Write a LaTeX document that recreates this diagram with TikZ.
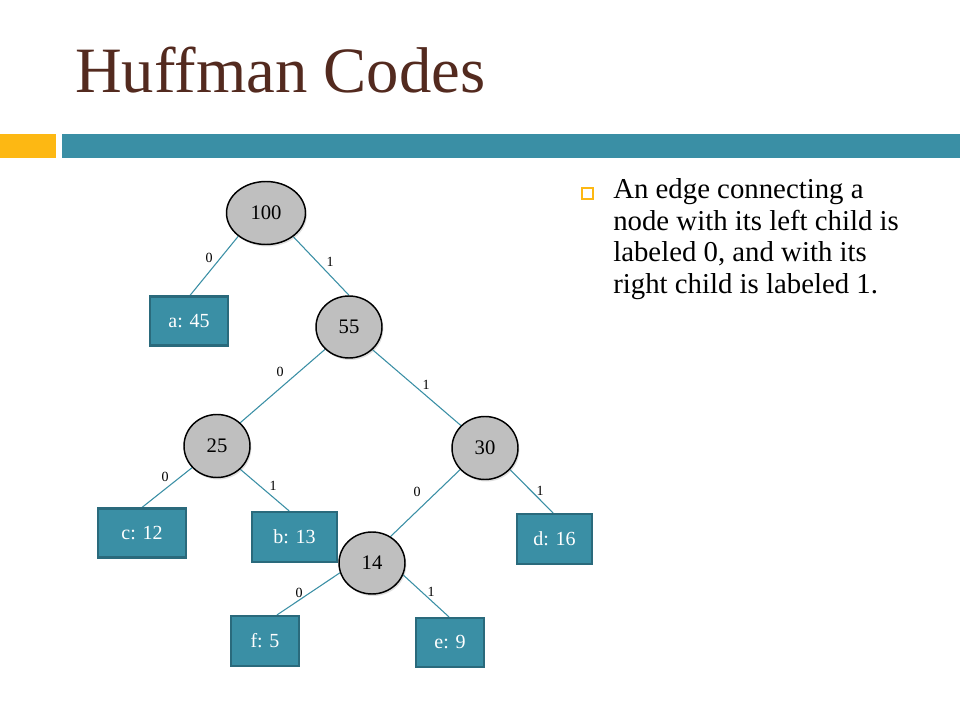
\documentclass[tikz,border=0pt]{standalone}
\usepackage{fontspec}
\setmainfont{Liberation Serif}
\usetikzlibrary{shapes.geometric,shadows,backgrounds}
\definecolor{titlebrown}{HTML}{532A1F}
\definecolor{barorange}{HTML}{FDB813}
\definecolor{barteal}{HTML}{3A8FA5}
\definecolor{boxteal}{HTML}{3A8FA5}
\definecolor{boxedge}{HTML}{2A6A7C}
\definecolor{nodegray}{HTML}{BFBFBF}
\definecolor{edgeteal}{HTML}{3A8FA5}
\tikzset{
  inner/.style={ellipse, draw=black, line width=1.1pt, fill=nodegray,
    inner sep=0pt, font=\fontsize{15.5}{15.5}\selectfont,
    drop shadow={opacity=0.25, shadow xshift=1pt, shadow yshift=-1.5pt}},
  leaf/.style={rectangle, draw=boxedge, line width=1.6pt, fill=boxteal,
    text=white, inner sep=0pt, font=\fontsize{15}{15}\selectfont},
  treeedge/.style={draw=edgeteal, line width=0.8pt},
  elabel/.style={font=\fontsize{10.5}{10.5}\selectfont, inner sep=0pt},
  bodytext/.style={anchor=base west, inner sep=0pt, font=\fontsize{21.6}{24}\selectfont}
}
\begin{document}
\begin{tikzpicture}[x=0.75pt,y=-0.75pt]
\useasboundingbox (0,0) rectangle (960,720);
\begin{scope}[on background layer]
\fill[white] (0,0) rectangle (960,720);
\end{scope}
% title
\node[anchor=base west, inner sep=0pt, text=titlebrown, font=\fontsize{48.5}{48.5}\selectfont] (title) at (75,93) {Huffman Codes};
% bars
\fill[barorange] (0,134) rectangle (56,158);
\fill[barteal] (62,134) rectangle (960,158);
% bullet text
\draw[barorange, line width=0.8pt] (582,188) rectangle (593,199);
\node[bodytext] (l1) at (613,199) {An edge connecting a};
\node[bodytext] (l2) at (613,231) {node with its left child is};
\node[bodytext] (l3) at (613,262) {labeled 0, and with its};
\node[bodytext] (l4) at (613,293) {right child is labeled 1.};
% inner nodes
\node[inner, minimum width=59.25pt, minimum height=47.25pt] (n100) at (266,213) {100};
\node[inner, minimum width=49.5pt, minimum height=46.5pt] (n55) at (349,327) {55};
\node[inner, minimum width=49.5pt, minimum height=47.25pt] (n25) at (217,446) {25};
\node[inner, minimum width=49.5pt, minimum height=47.25pt] (n30) at (485,448) {30};
\node[inner, minimum width=49.5pt, minimum height=46.5pt] (n14) at (372,563) {14};
% leaves
\node[leaf, minimum width=58.5pt, minimum height=36.75pt] (a) at (189,321) {a: 45};
\node[leaf, minimum width=66pt, minimum height=36.75pt] (c) at (142,533) {c: 12};
\node[leaf, minimum width=63.75pt, minimum height=37.5pt] (b) at (294.5,537) {b: 13};
\node[leaf, minimum width=56.25pt, minimum height=37.5pt] (d) at (554.5,539) {d: 16};
\node[leaf, minimum width=51pt, minimum height=37.5pt] (f) at (265,641) {f: 5};
\node[leaf, minimum width=51pt, minimum height=36.75pt] (e) at (450,642.5) {e: 9};
% edges (behind the nodes)
\begin{scope}[on background layer]
\draw[treeedge] (n100.220) -- ([xshift=0.75pt]a.north);
\draw[treeedge] (n100.319) -- (n55.north);
\draw[treeedge] (n55.223) -- (n25.45);
\draw[treeedge] (n55.316) -- (n30.137);
\draw[treeedge] (n25.221) -- (c.north);
\draw[treeedge] (n25.315) -- ([xshift=-4pt]b.north);
\draw[treeedge] (n30.221) -- (n14.55);
\draw[treeedge] (n30.319) -- ([xshift=-1pt]d.north);
\draw[treeedge] (n14.197) -- ([xshift=9pt]f.north);
\draw[treeedge] (n14.339) -- ([xshift=-0.75pt]e.north);
\end{scope}
% edge labels
\node[elabel] (e1) at (209,258) {0};
\node[elabel] (e2) at (330,262) {1};
\node[elabel] (e3) at (280,372) {0};
\node[elabel] (e4) at (426,385) {1};
\node[elabel] (e5) at (165,477) {0};
\node[elabel] (e6) at (273,486) {1};
\node[elabel] (e7) at (417,492) {0};
\node[elabel] (e8) at (540,491) {1};
\node[elabel] (e9) at (299,593) {0};
\node[elabel] (e10) at (431,592) {1};
\end{tikzpicture}
\end{document}
